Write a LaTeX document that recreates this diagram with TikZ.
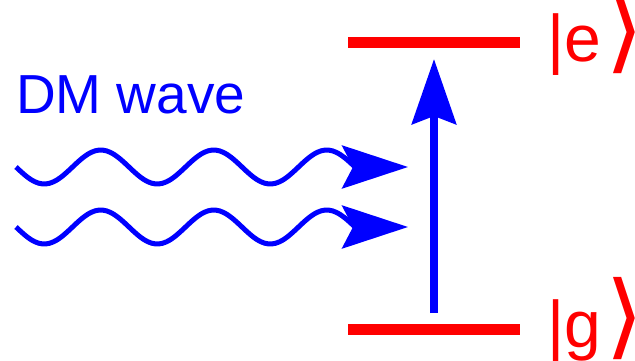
\documentclass[tikz,border=0pt]{standalone}
\usepackage{fontspec}
\setmainfont{Liberation Sans}
\newfontfamily\symfont{DejaVu Sans}
\usetikzlibrary{arrows.meta}
\newcommand{\ketclose}{\hspace{4pt}\scalebox{1.5}[1.4]{\symfont ⟩}}
\tikzset{
  level/.style={red,line width=11pt},
  ketlabel/.style={red,anchor=base west,inner sep=0pt,font=\fontsize{66}{70}\selectfont},
  dmwave/.style={blue,line width=5pt,
    -{Stealth[length=66pt,width=43pt,inset=11pt]}},
  excite/.style={blue,line width=8pt,-{Stealth[length=65pt,width=44pt,inset=8pt]}}
}
\begin{document}
\begin{tikzpicture}[x=1pt,y=-1pt]
      \useasboundingbox (0,0) rectangle (635,360);

      % two levels
      \coordinate (eL) at (348,42);  \coordinate (eR) at (520,42);
      \coordinate (gL) at (348,329); \coordinate (gR) at (520,329);
      \draw[level] (eL) -- (eR);
      \draw[level] (gL) -- (gR);
      \node[ketlabel] (kete) at (547,61) {|e\ketclose};
      \node[ketlabel] (ketg) at (547,347) {|g\ketclose};

      % transition g -> e
      \coordinate (up0) at (434,313);
      \coordinate (up1) at (434,59);
      \draw[excite] (up0) -- (up1);

      % incoming dark matter wave, three periods then the tip
      \node[blue,anchor=base west,inner sep=0pt,font=\fontsize{55}{60}\selectfont] (dm) at (16,113) {DM wave};
      \foreach \y [count=\i] in {167,227} {
        \coordinate (w\i s) at (16,\y);
        \coordinate (w\i e) at (408,\y);
        \draw[dmwave] plot[domain=0:339,samples=91,smooth]
          ([shift={(\x,{17*sin(\x/113*360)})}]w\i s) -- (w\i e);
      }
    \end{tikzpicture}
\end{document}
